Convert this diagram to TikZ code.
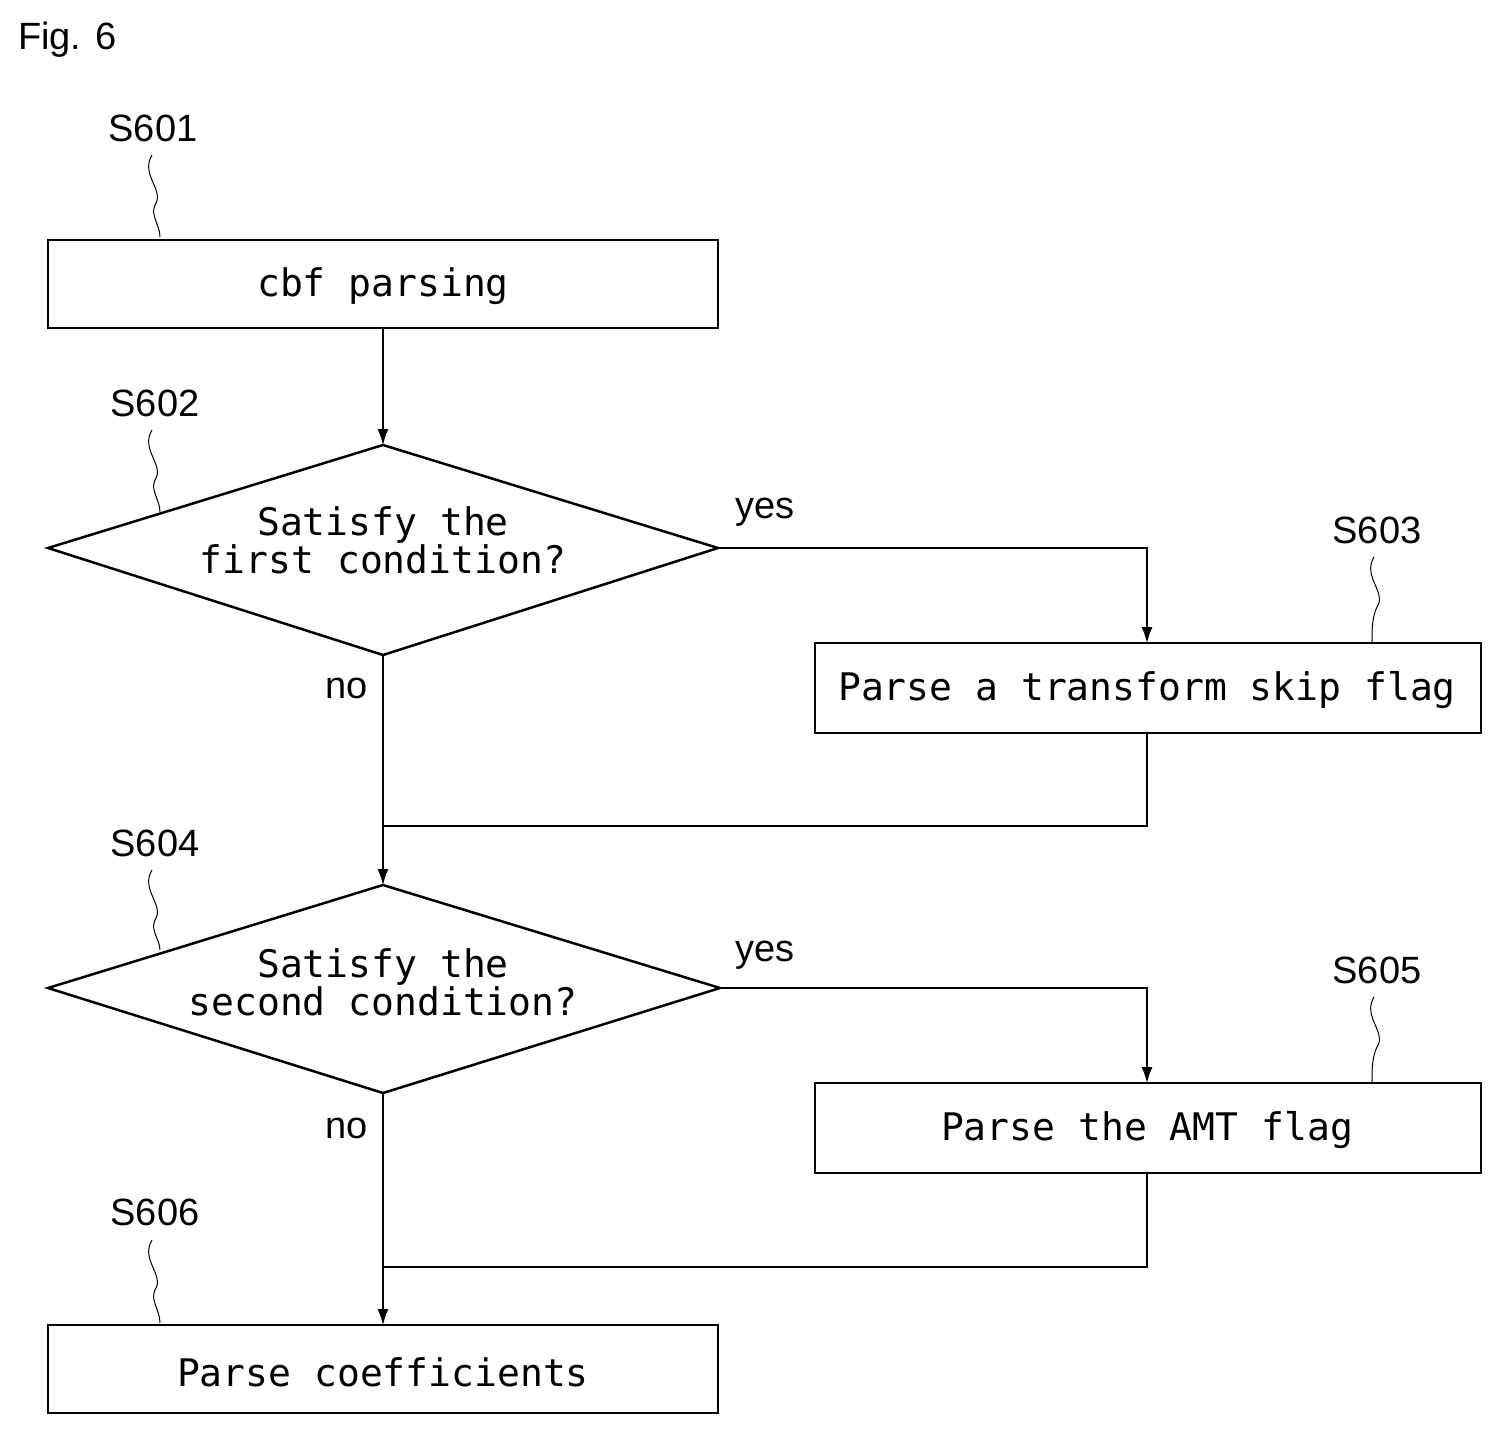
\documentclass[tikz,border=0pt]{standalone}
\usetikzlibrary{arrows.meta}
\usepackage{fontspec}
\setmainfont{Liberation Sans}
\newfontfamily\boxfont{DejaVu Sans Mono}
\begin{document}
\begin{tikzpicture}[x=1pt,y=-1pt,
  box/.style={draw,line width=2.5pt},
  conn/.style={line width=1.3pt},
  arr/.style={conn,-{Latex[length=16pt,width=11pt]}},
  txt/.style={font=\boxfont\fontsize{38}{50}\selectfont,align=center},
  lab/.style={font=\fontsize{38}{40}\selectfont,inner sep=0},
  lead/.style={line width=1pt}]
\useasboundingbox (0,0) rectangle (1504,1438);
\node[lab,anchor=west] (fig) at (18,40) {Fig. 6};
% boxes
\draw[box] (48,240) rectangle (718,328);
\node[txt] (b1) at (383,286) {cbf parsing};
\draw[box] (48,548) -- (383,445) -- (718,548) -- (383,655) -- cycle;
\node[txt] (d1) at (383,540) {Satisfy the\\[-12pt]first condition?};
\draw[box] (815,643) rectangle (1481,733);
\node[txt] (b2) at (1147,690) {Parse a transform skip flag};
\draw[box] (48,988) -- (383,885) -- (720,988) -- (383,1093) -- cycle;
\node[txt] (d2) at (383,982) {Satisfy the\\[-12pt]second condition?};
\draw[box] (815,1083) rectangle (1481,1173);
\node[txt] (b3) at (1147,1130) {Parse the AMT flag};
\draw[box] (48,1325) rectangle (718,1413);
\node[txt] (b4) at (383,1372) {Parse coefficients};
% coordinates
\coordinate (b1s) at (383,328); \coordinate (d1n) at (383,445);
\coordinate (d1e) at (718,548); \coordinate (d1s) at (383,655);
\coordinate (b2n) at (1147,643); \coordinate (b2s) at (1147,733);
\coordinate (j1) at (383,826);
\coordinate (d2n) at (383,885); \coordinate (d2e) at (720,988); \coordinate (d2s) at (383,1093);
\coordinate (b3n) at (1147,1083); \coordinate (b3s) at (1147,1173);
\coordinate (j2) at (383,1267); \coordinate (b4n) at (383,1325);
% connectors
\draw[arr] (b1s) -- (d1n);
\draw[arr] (d1e) -| (b2n);
\draw[arr] (d1s) -- (d2n);
\draw[conn] (b2s) |- (j1);
\draw[arr] (d2e) -| (b3n);
\draw[arr] (d2s) -- (b4n);
\draw[conn] (b3s) |- (j2);
% yes/no
\node[lab] (y1) at (765,512) {yes};
\node[lab] (n1) at (347,688) {no};
\node[lab] (y2) at (765,955) {yes};
\node[lab] (n2) at (347,1128) {no};
% step labels and leaders
\node[lab] (s1) at (153,128) {S601};
\draw[lead] (152,155) .. controls (140,175) and (165,190) .. (155,205) .. controls (150,215) and (160,225) .. (160,237);
\node[lab] (s2) at (155,403) {S602};
\draw[lead] (152,430) .. controls (140,450) and (165,465) .. (155,480) .. controls (150,490) and (160,500) .. (160,512);
\node[lab] (s3) at (1377,530) {S603};
\draw[lead] (1374,557) .. controls (1362,577) and (1387,592) .. (1377,607) .. controls (1372,617) and (1372,630) .. (1372,642);
\node[lab] (s4) at (155,843) {S604};
\draw[lead] (152,870) .. controls (140,890) and (165,905) .. (155,920) .. controls (150,930) and (160,940) .. (160,950);
\node[lab] (s5) at (1377,970) {S605};
\draw[lead] (1374,997) .. controls (1362,1017) and (1387,1032) .. (1377,1047) .. controls (1372,1057) and (1372,1070) .. (1372,1082);
\node[lab] (s6) at (155,1212) {S606};
\draw[lead] (152,1240) .. controls (140,1260) and (165,1275) .. (155,1290) .. controls (150,1300) and (160,1310) .. (160,1323);
\end{tikzpicture}
\end{document}
